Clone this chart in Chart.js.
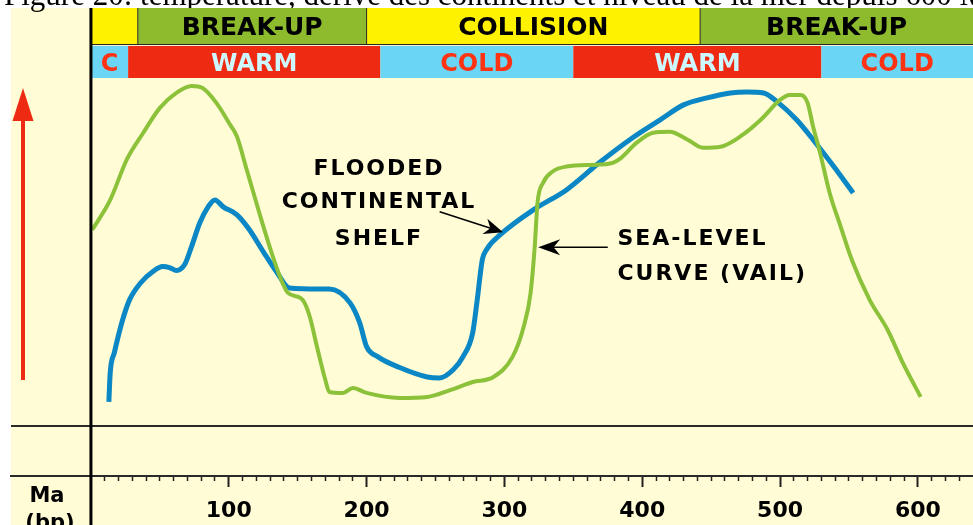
<!DOCTYPE html>
<html>
<head>
<meta charset="utf-8">
<script src="https://cdn.jsdelivr.net/npm/chart.js@4.4.1/dist/chart.umd.min.js"></script>
<style>
  html, body { margin: 0; padding: 0; background: #ffffff; }
  #wrap { width: 973px; height: 525px; }
</style>
</head>
<body>
<div id="wrap"><canvas id="seaChart" width="973" height="525"></canvas></div>
<script>
// age axis, Ma before present
const tickValues = [100, 200, 300, 400, 500, 600];
const tickLabels = ["100", "200", "300", "400", "500", "600"];

// flooded continental shelf (blue)
const shelfAge = [13, 14, 17, 23, 28, 36, 45, 52, 57, 62, 68, 73, 79, 85, 90, 96, 106, 115, 125, 135,
  144, 166, 173, 188, 195, 200, 208, 224, 244, 253, 263, 270, 277, 280, 284, 287, 297, 321, 345, 369,
  393, 413, 430, 447, 464, 476, 488, 498, 512, 524, 539, 553];
const shelfLevel = [4.9, 10.8, 14.8, 21.4, 25.4, 28.8, 31.1, 32.1, 31.9, 31.3, 32.5, 36.1, 40.9, 44.1, 45.5, 44.1, 42.5, 39.5, 35.1, 30.9,
  27.8, 27.6, 27.6, 24.8, 20.8, 16.0, 14.0, 11.8, 9.9, 9.7, 11.4, 14.0, 18.8, 24.8, 33.5, 35.5, 38.5, 43.5, 47.5, 53.0,
  58.0, 61.6, 64.6, 66.0, 67.0, 67.2, 67.0, 65.2, 61.6, 57.6, 52.2, 46.9];

// sea-level curve, Vail (green)
const vailAge = [1, 14, 26, 38, 50, 62, 73, 81, 91, 101, 106, 113, 123, 132, 139, 143, 152, 155, 159, 164,
  170, 173, 183, 190, 200, 224, 244, 261, 277, 292, 306, 314, 319, 322, 324, 328, 335, 345, 369, 379,
  384, 396, 408, 420, 433, 444, 457, 473, 486, 500, 507, 515, 520, 524, 529, 536, 544, 552, 565, 578,
  589, 602];
const vailLevel = [39.5, 45.5, 53.6, 59.0, 64.0, 67.0, 68.4, 68.0, 65.0, 60.6, 58.2, 51.6, 42.1, 34.1, 28.8, 26.8, 25.8, 24.8, 21.8, 16.0,
  9.4, 6.9, 6.7, 7.7, 6.7, 5.7, 5.9, 7.3, 8.9, 9.9, 14.0, 20.0, 26.8, 36.1, 44.9, 48.9, 51.2, 52.2, 52.6, 53.0,
  53.8, 57.0, 59.0, 59.2, 57.6, 56.0, 56.2, 58.6, 61.6, 65.6, 66.6, 66.6, 65.0, 60.2, 55.0, 46.9, 40.1, 33.5, 25.4, 19.4,
  12.8, 5.9];

// tectonic and climate bands along the top
const tectonicFrom = [0, 34, 200, 442];
const tectonicTo = [34, 200, 442, 640];
const tectonicLabels = ["", "BREAK-UP", "COLLISION", "BREAK-UP"];
const climateFrom = [0, 27, 210, 350, 530];
const climateTo = [27, 210, 350, 530, 640];
const climateLabels = ["C", "WARM", "COLD", "WARM", "COLD"];

const caption = "Figure 20: température, dérive des continents et niveau de la mer depuis 600 Ma";

const YELLOW = "#fff200";
const GREEN_BAND = "#8dbb2d";
const RED = "#ee2a12";
const CYAN = "#6bd5f6";
const CREAM = "#fffcd6";

function arrow(ctx, x1, y1, x2, y2, len, half) {
  const a = Math.atan2(y2 - y1, x2 - x1);
  const cos = Math.cos(a), sin = Math.sin(a);
  const bx = x2 - cos * len, by = y2 - sin * len;
  ctx.beginPath();
  ctx.moveTo(x1, y1);
  ctx.lineTo(x2 - cos * len * 0.6, y2 - sin * len * 0.6);
  ctx.stroke();
  ctx.beginPath();
  ctx.moveTo(x2, y2);
  ctx.lineTo(bx - sin * half, by + cos * half);
  ctx.lineTo(x2 - cos * len * 0.7, y2 - sin * len * 0.7);
  ctx.lineTo(bx + sin * half, by - cos * half);
  ctx.closePath();
  ctx.fill();
}

const decor = {
  id: "decor",
  beforeDraw(chart) {
    const ctx = chart.ctx;
    const x = chart.scales.x;
    const W = chart.width, H = chart.height;
    ctx.save();
    ctx.fillStyle = "#ffffff";
    ctx.fillRect(0, 0, W, H);
    ctx.fillStyle = CREAM;
    ctx.fillRect(11, 8, W - 11, H - 8);

    // caption cut by the top edge
    ctx.fillStyle = "#000";
    ctx.font = "31px 'Liberation Serif', serif";
    ctx.textAlign = "left";
    ctx.textBaseline = "alphabetic";
    ctx.fillText(caption, 4, 5);

    // tectonic row
    ctx.textAlign = "center";
    ctx.textBaseline = "middle";
    ctx.font = "bold 25px 'DejaVu Sans', sans-serif";
    tectonicLabels.forEach((lab, i) => {
      const a = x.getPixelForValue(tectonicFrom[i]);
      const b = Math.min(W, x.getPixelForValue(tectonicTo[i]));
      ctx.fillStyle = lab === "BREAK-UP" ? GREEN_BAND : YELLOW;
      ctx.fillRect(a, 8, b - a, 36);
      if (i > 0) {
        ctx.fillStyle = "#2a2a2a";
        ctx.fillRect(a - 0.5, 8, 1, 36);
      }
      ctx.fillStyle = "#000";
      if (lab) ctx.fillText(lab, (a + b) / 2, 28);
    });
    ctx.fillStyle = "#2a2a2a";
    ctx.fillRect(x.getPixelForValue(0), 44, W, 1);
    ctx.fillStyle = "#f6f0d0";
    ctx.fillRect(x.getPixelForValue(0), 45, W, 1);

    // climate row
    ctx.font = "bold 24px 'DejaVu Sans', sans-serif";
    climateLabels.forEach((lab, i) => {
      const a = x.getPixelForValue(climateFrom[i]);
      const b = Math.min(W, x.getPixelForValue(climateTo[i]));
      const warm = lab === "WARM";
      ctx.fillStyle = warm ? RED : CYAN;
      ctx.fillRect(a, 46, b - a, 32);
      ctx.fillStyle = warm ? "#cdf8ff" : "#ff3212";
      ctx.fillText(lab, (a + b) / 2, 65);
    });

    // red arrow on the left
    ctx.strokeStyle = RED;
    ctx.fillStyle = RED;
    ctx.lineWidth = 4;
    ctx.beginPath();
    ctx.moveTo(23, 380);
    ctx.lineTo(23, 115);
    ctx.stroke();
    ctx.beginPath();
    ctx.moveTo(23, 88);
    ctx.lineTo(12.5, 121);
    ctx.lineTo(33.5, 121);
    ctx.closePath();
    ctx.fill();
    ctx.restore();
  },
  afterDraw(chart) {
    const ctx = chart.ctx;
    const x = chart.scales.x, y = chart.scales.y;
    ctx.save();
    // vertical axis at 0 Ma
    ctx.fillStyle = "#000";
    ctx.fillRect(x.getPixelForValue(0) - 1.5, 8, 3, chart.height - 8);

    // Ma (bp)
    ctx.font = "bold 21px 'DejaVu Sans', sans-serif";
    ctx.textAlign = "center";
    ctx.textBaseline = "alphabetic";
    ctx.fillText("Ma", 47, 502);
    ctx.fillText("(bp)", 50, 529);

    // annotations
    ctx.font = "bold 22px 'DejaVu Sans', sans-serif";
    ctx.letterSpacing = "2px";
    ctx.textAlign = "center";
    const fx = x.getPixelForValue(209);
    ctx.fillText("FLOODED", fx, y.getPixelForValue(50.5));
    ctx.fillText("CONTINENTAL", fx, y.getPixelForValue(43.9));
    ctx.fillText("SHELF", fx, y.getPixelForValue(36.4));
    ctx.textAlign = "left";
    const sx = x.getPixelForValue(382);
    ctx.fillText("SEA-LEVEL", sx, y.getPixelForValue(36.4));
    ctx.fillText("CURVE (VAIL)", sx, y.getPixelForValue(29.4));

    ctx.strokeStyle = "#000";
    ctx.lineWidth = 1.5;
    arrow(ctx, x.getPixelForValue(253), y.getPixelForValue(43.1),
      x.getPixelForValue(299), y.getPixelForValue(39.0), 19, 8);
    arrow(ctx, x.getPixelForValue(375), y.getPixelForValue(36.0),
      x.getPixelForValue(324.5), y.getPixelForValue(36.0), 22, 8);
    ctx.restore();
  }
};

const ctx = document.getElementById("seaChart").getContext("2d");

new Chart(ctx, {
  type: "line",
  data: {
    datasets: [
      {
        label: "Sea-level curve (Vail)",
        data: vailAge.map((a, i) => ({ x: a, y: vailLevel[i] })),
        borderColor: "#8cc13a",
        borderWidth: 4,
        pointRadius: 0,
        cubicInterpolationMode: "monotone",
        fill: false
      },
      {
        label: "Flooded continental shelf",
        data: shelfAge.map((a, i) => ({ x: a, y: shelfLevel[i] })),
        borderColor: "#0a87c4",
        borderWidth: 5,
        pointRadius: 0,
        cubicInterpolationMode: "monotone",
        fill: false
      }
    ]
  },
  options: {
    responsive: false,
    animation: false,
    devicePixelRatio: 1,
    layout: { autoPadding: false, padding: { left: 11, top: 78, right: 0, bottom: -10 } },
    plugins: {
      legend: { display: false },
      tooltip: { enabled: false }
    },
    scales: {
      x: {
        type: "linear",
        min: -58,
        max: 640,
        afterBuildTicks(scale) {
          const t = [];
          for (let v = 10; v <= 630; v += 10) t.push({ value: v });
          scale.ticks = t;
        },
        ticks: {
          autoSkip: false,
          maxRotation: 0,
          minRotation: 0,
          padding: 13,
          color: "#000",
          font: { family: "'DejaVu Sans', sans-serif", size: 22, weight: "bold", lineHeight: 1 },
          callback(value) {
            const i = tickValues.indexOf(value);
            return i >= 0 ? tickLabels[i] : "";
          }
        },
        grid: {
          drawOnChartArea: false,
          tickLength: 11,
          tickColor: "#222",
          tickWidth: c => tickValues.includes(c.tick.value) ? 2 : 1.5,
          tickBorderDash: c => tickValues.includes(c.tick.value) ? [] : [4, 30]
        },
        border: { color: "#2a2a2a", width: 2 }
      },
      y: {
        min: -10,
        max: 70,
        ticks: { display: false },
        grid: {
          drawTicks: false,
          lineWidth: 2,
          color: c => c.tick.value === 0 ? "#2a2a2a" : "rgba(0,0,0,0)"
        },
        border: { display: false }
      }
    }
  },
  plugins: [decor]
});
</script>
</body>
</html>
